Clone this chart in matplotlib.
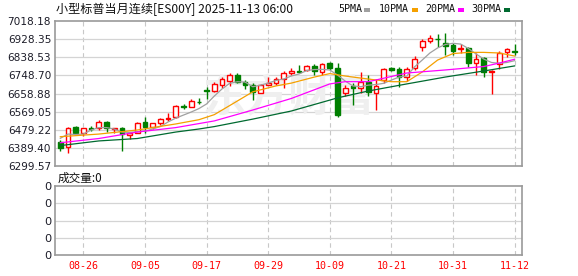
import numpy as np
import matplotlib
matplotlib.use('Agg')
import matplotlib.pyplot as plt
from matplotlib.patches import Rectangle

# chart texts
title = '小型标普当月连续[ES00Y] 2025-11-13 06:00'
vol_label = '成交量:0'
legend_names = ['5PMA', '10PMA', '20PMA', '30PMA']

# daily candles (08-21 .. 11-12)
opens = [6421, 6396, 6492, 6466, 6489, 6487, 6520, 6484, 6487, 6454,
         6466, 6520, 6495, 6512, 6533, 6542, 6596, 6594, 6619, 6675,
         6670, 6702, 6723, 6751, 6718, 6702, 6662, 6704, 6710, 6730,
         6760, 6769, 6776, 6795, 6767, 6809, 6784, 6664, 6697, 6685,
         6718, 6664, 6728, 6786, 6779, 6740, 6784, 6888, 6919, 6930,
         6908, 6899, 6878, 6883, 6809, 6834, 6767, 6804, 6866, 6870]
highs = [6430, 6495, 6499, 6490, 6499, 6528, 6525, 6490, 6495, 6471,
         6520, 6542, 6515, 6540, 6565, 6601, 6608, 6631, 6636, 6690,
         6718, 6740, 6763, 6763, 6728, 6712, 6705, 6740, 6740, 6772,
         6784, 6800, 6800, 6805, 6812, 6814, 6809, 6702, 6710, 6767,
         6751, 6730, 6784, 6792, 6792, 6792, 6845, 6928, 6949, 6954,
         6957, 6908, 6904, 6888, 6858, 6842, 6776, 6871, 6883, 6904]
lows = [6377, 6367, 6459, 6450, 6476, 6479, 6471, 6466, 6377, 6435,
        6463, 6466, 6482, 6504, 6525, 6538, 6581, 6591, 6606, 6630,
        6668, 6685, 6698, 6710, 6683, 6629, 6660, 6700, 6702, 6685,
        6751, 6760, 6772, 6751, 6751, 6776, 6545, 6647, 6603, 6664,
        6645, 6578, 6710, 6770, 6693, 6723, 6776, 6871, 6908, 6888,
        6850, 6850, 6858, 6792, 6751, 6740, 6657, 6779, 6838, 6850]
closes = [6389, 6487, 6466, 6487, 6486, 6517, 6487, 6489, 6459, 6463,
          6515, 6492, 6512, 6533, 6536, 6598, 6593, 6622, 6616, 6672,
          6707, 6730, 6751, 6718, 6702, 6668, 6700, 6713, 6730, 6760,
          6772, 6767, 6795, 6772, 6805, 6784, 6553, 6688, 6685, 6718,
          6668, 6698, 6779, 6776, 6740, 6779, 6829, 6919, 6932, 6928,
          6896, 6871, 6883, 6812, 6829, 6767, 6772, 6858, 6878, 6866]

# moving averages
ma5 = [6438, 6459, 6457, 6459, 6479, 6491, 6491, 6484, 6469, 6467,
       6471, 6474, 6484, 6496, 6519, 6538, 6553, 6568, 6585, 6608,
       6647, 6682, 6710, 6718, 6716, 6693, 6701, 6711, 6724, 6731,
       6746, 6756, 6773, 6778, 6779, 6776, 6751, 6721, 6697, 6693,
       6701, 6704, 6710, 6726, 6741, 6746, 6791, 6825, 6860, 6885,
       6902, 6908, 6904, 6882, 6855, 6830, 6813, 6809, 6813, 6822]
ma10_idx = [0, 5, 10, 15, 18, 20, 22, 25, 28, 30, 33, 35, 37, 40, 43, 45,
            47, 49, 51, 53, 55, 57, 59]
ma10 = [6446, 6459, 6479, 6509, 6530, 6555, 6600, 6668, 6697, 6711, 6741,
        6758, 6746, 6731, 6718, 6718, 6766, 6825, 6857, 6863, 6863, 6860,
        6845]
ma20_idx = [0, 5, 10, 15, 20, 25, 30, 35, 37, 40, 45, 50, 55, 57, 59]
ma20 = [6416, 6437, 6469, 6491, 6524, 6578, 6635, 6707, 6718, 6718, 6761,
        6776, 6793, 6810, 6829]
ma30_idx = [0, 5, 10, 15, 18, 20, 25, 30, 35, 36, 40, 45, 50, 55, 59]
ma30 = [6402, 6425, 6437, 6469, 6484, 6496, 6533, 6573, 6627, 6638, 6672,
        6707, 6741, 6771, 6796]

date_idx = [3, 11, 19, 27, 35, 43, 51, 59]
date_labels = ['08-26', '09-05', '09-17', '09-29', '10-09', '10-21', '10-31', '11-12']
price_ticks = [6299.57, 6389.40, 6479.22, 6569.05, 6658.88, 6748.70, 6838.53,
               6928.35, 7018.18]
vol_ticks = [0, 1, 2, 3, 4]

RED = '#ff0000'
GREEN = '#007f00'
MA_COLORS = ['#a0a0a0', '#f5a000', '#ff00ff', '#006a30']
GRID = '#d4d4d4'
SPINE = '#9a9a9a'
TXT = '#1c1c28'
CJK = ['Noto Sans CJK SC', 'DejaVu Sans']

W, H = 578, 276
fig = plt.figure(figsize=(W / 100, H / 100), dpi=100)
fig.patch.set_facecolor('white')


def frac(x0, y0, x1, y1):
    return [x0 / W, 1 - y1 / H, (x1 - x0) / W, (y1 - y0) / H]


ax = fig.add_axes(frac(55.3, 21, 522.3, 166.3))
vax = fig.add_axes(frac(55.3, 186, 522.3, 255.2))

xlim = (-0.65, 60.0)
for a in (ax, vax):
    a.set_xlim(*xlim)
    for s in a.spines.values():
        s.set_color(SPINE)
        s.set_linewidth(1.2)
    a.set_xticks([])
    a.tick_params(axis='y', length=0, pad=3, labelsize=7.6, labelcolor=TXT)
    for xi in date_idx:
        a.axvline(xi, color='#c8c8c8', lw=0.8, ls=(0, (4, 3)), zorder=0)

# price panel
ax.set_ylim(price_ticks[0], price_ticks[-1])
ax.set_yticks(price_ticks)
ax.set_yticklabels(['%.2f' % t for t in price_ticks])
for t in price_ticks[1:-1]:
    ax.axhline(t, color=GRID, lw=0.9, zorder=0)

ax.text(0.5, 0.47, '东方财富', transform=ax.transAxes, ha='center', va='center',
        fontsize=31, color='#efefef', family=CJK, fontweight='bold', zorder=0.5)

bw = 0.62
for i in range(len(opens)):
    o, h, l, c = opens[i], highs[i], lows[i], closes[i]
    col = RED if c >= o else GREEN
    ax.vlines(i, l, h, color=col, lw=1.0, zorder=2)
    lo, hi = min(o, c), max(o, c)
    face = 'white' if c >= o else GREEN
    ax.add_patch(Rectangle((i - bw / 2, lo), bw, max(hi - lo, 0.5),
                           facecolor=face, edgecolor=col, lw=1.0, zorder=3))

ax.plot(range(len(ma5)), ma5, color=MA_COLORS[0], lw=0.9, zorder=4)
ax.plot(ma10_idx, ma10, color=MA_COLORS[1], lw=0.9, zorder=4)
ax.plot(ma20_idx, ma20, color=MA_COLORS[2], lw=0.9, zorder=4)
ax.plot(ma30_idx, ma30, color=MA_COLORS[3], lw=0.9, zorder=4)

# volume panel
vax.set_ylim(vol_ticks[0], vol_ticks[-1])
vax.set_yticks(vol_ticks)
vax.set_yticklabels(['0'] * len(vol_ticks))
vax.tick_params(axis='y', labelsize=8.2)
for t in vol_ticks[1:-1]:
    vax.axhline(t, color=GRID, lw=0.9, zorder=0)

for xi, lab in zip(date_idx, date_labels):
    vax.text(xi, -0.155, lab, transform=vax.get_xaxis_transform(), ha='center',
             va='center', color=RED, fontsize=7.2, family='DejaVu Sans Mono')

# texts above panels
fig.text(55.5 / W, 1 - 9.5 / H, title, ha='left', va='center', fontsize=8.7,
         family=CJK, color='#111111')
fig.text(57.5 / W, 1 - 178 / H, vol_label, ha='left', va='center', fontsize=8.4,
         family=CJK, color='#111111')

leg_x = [338, 379, 425.3, 471.3]
sq_x = [364.5, 412, 458, 504.4]
for name, lx, sx, col in zip(legend_names, leg_x, sq_x, MA_COLORS):
    fig.text(lx / W, 1 - 9.5 / H, name, ha='left', va='center', fontsize=7.2,
             family='DejaVu Sans Mono', color='#111111')
    fig.patches.append(Rectangle((sx / W, 1 - 11.5 / H), 6 / W, 4 / H,
                                 transform=fig.transFigure, facecolor=col,
                                 edgecolor='none'))

fig.savefig('out.png', dpi=100)
